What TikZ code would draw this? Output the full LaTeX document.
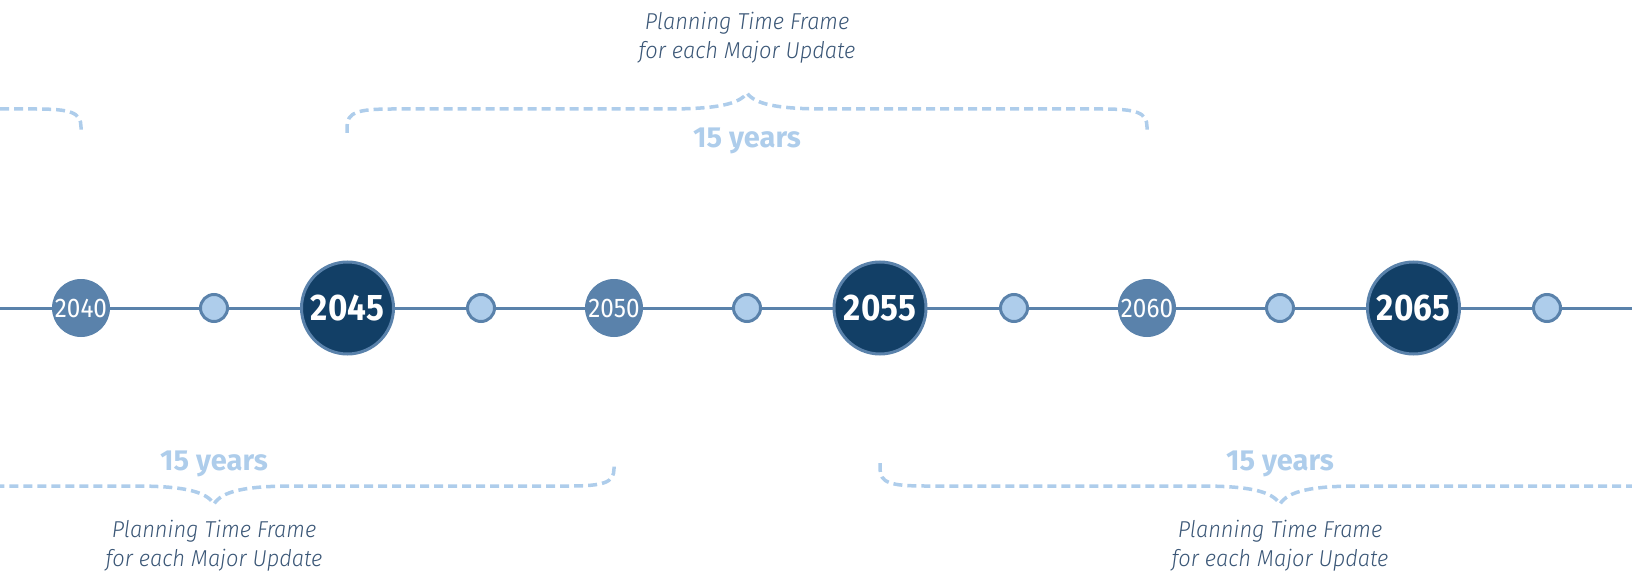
\documentclass[tikz,border=0pt]{standalone}
\usepackage{fontspec}
\setmainfont{Fira Sans}
\newfontfamily\planfont[FakeStretch=0.95]{Fira Sans Light}
\newfontfamily\yearfont[FakeStretch=0.9]{Fira Sans}
\definecolor{linec}{HTML}{5A82AB}
\definecolor{navy}{HTML}{123F66}
\definecolor{lightb}{HTML}{AECDEB}
\definecolor{textc}{HTML}{3A5676}
\newcommand\brc[5]{% xa xb yend yhoriz ytip
  \draw[bracec] (#1,#3) -- (#1,{#3+0.25*(#4-#3)})
    .. controls (#1,{#4-0.15*(#4-#3)}) and ({#1+10},#4) .. ({#1+45},#4)
    -- ({(#1+#2)/2-80},#4)
    .. controls ({(#1+#2)/2-30},#4) and ({(#1+#2)/2-8},{#4+0.3*(#5-#4)}) .. ({(#1+#2)/2},#5)
    .. controls ({(#1+#2)/2+8},{#4+0.3*(#5-#4)}) and ({(#1+#2)/2+30},#4) .. ({(#1+#2)/2+80},#4)
    -- ({#2-45},#4)
    .. controls ({#2-10},#4) and (#2,{#4-0.15*(#4-#3)}) .. (#2,{#3+0.25*(#4-#3)})
    -- (#2,#3);}
\begin{document}
\begin{tikzpicture}[x=1pt,y=-1pt,
  yearsm/.style={circle,fill=linec,minimum size=58pt,inner sep=0pt,text=white,font=\yearfont\fontsize{27}{27}\selectfont},
  yearbig/.style={circle,fill=navy,draw=linec,line width=3pt,minimum size=92pt,inner sep=0pt,text=white,font=\yearfont\bfseries\fontsize{37}{37}\selectfont},
  dot/.style={circle,fill=lightb,draw=linec,line width=3pt,minimum size=27pt,inner sep=0pt},
  bracec/.style={draw=lightb,line width=3.5pt,dash pattern=on 9pt off 5pt},
  yrs/.style={text=lightb,font=\bfseries\fontsize{29}{29}\selectfont},
  plan/.style={text=textc,align=center,font=\planfont\itshape\fontsize{23}{29}\selectfont},
  tline/.style={draw=linec,line width=3pt}
]
\useasboundingbox (0,0) rectangle (1632,577);
\begin{scope}
\clip (0,0) rectangle (1632,577);
% braces
\brc{-719}{81}{133}{109}{93}
\brc{347}{1147}{133}{109}{93}
\brc{-186}{614}{463}{486}{504}
\brc{880}{1680}{463}{486}{504}
% timeline
\coordinate (L) at (0,308);
\coordinate (R) at (1632,308);
\draw[tline] (L) -- (R);
\end{scope}
% nodes
\node[yearsm] (y2040) at (81,308) {2040};
\node[dot] (d1) at (214,308) {};
\node[yearbig] (y2045) at (347.5,308) {2045};
\node[dot] (d2) at (481,308) {};
\node[yearsm] (y2050) at (614,308) {2050};
\node[dot] (d3) at (747,308) {};
\node[yearbig] (y2055) at (880,308) {2055};
\node[dot] (d4) at (1014,308) {};
\node[yearsm] (y2060) at (1147,308) {2060};
\node[dot] (d5) at (1280,308) {};
\node[yearbig] (y2065) at (1413.5,308) {2065};
\node[dot] (d6) at (1547,308) {};
% labels
\node[plan] (ptop) at (747,38) {Planning Time Frame\\for each Major Update};
\node[yrs] (ytop) at (747,141) {15 years};
\node[yrs] (ybl) at (214,464) {15 years};
\node[plan] (pbl) at (214,546) {Planning Time Frame\\for each Major Update};
\node[yrs] (ybr) at (1280,464) {15 years};
\node[plan] (pbr) at (1280,546) {Planning Time Frame\\for each Major Update};
\end{tikzpicture}
\end{document}
